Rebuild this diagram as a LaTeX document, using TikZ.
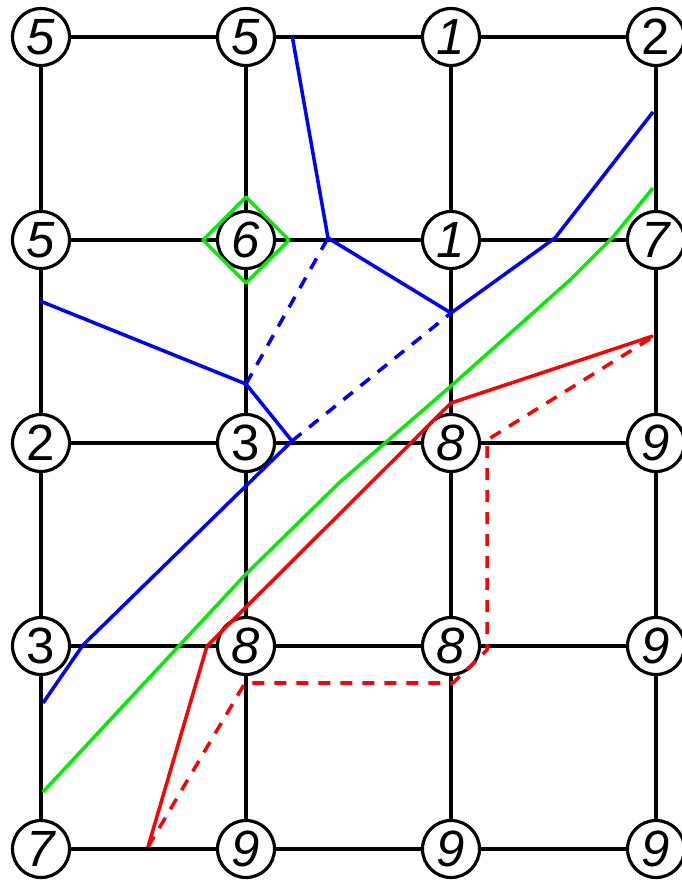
\documentclass[tikz,border=0pt]{standalone}
\usepackage{fontspec}
\setmainfont{Liberation Sans}
\definecolor{cutblue}{HTML}{0000FF}
\definecolor{cutgreen}{HTML}{00EE00}
\definecolor{cutred}{HTML}{FF0000}

\begin{document}
\begin{tikzpicture}[x=0.02cm,y=-0.02cm,line width=2pt,line join=round,
  cell/.style={circle,draw,fill=white,minimum size=1.14cm,inner sep=0pt,
    line width=1.8pt,font=\fontsize{29}{34}\selectfont\itshape},
  cutdash/.style={dash pattern=on 0.24cm off 0.2cm}]
  \useasboundingbox (0,0) rectangle (681,881);
  % value grid
  \foreach \r/\row in {0/{5,5,1,2},1/{5,6,1,7},2/{2,3,8,9},3/{3,8,8,9},4/{7,9,9,9}}
    \foreach \v [count=\c from 0] in \row
      \node[cell] (n\r\c) at (41+205*\c,37+203*\r)
        {\ifnum\v>1 \ifnum\v<4 \upshape\fi\fi\v};
  \foreach \r in {0,...,4}
    \foreach \c/\d in {0/1,1/2,2/3}
      \draw (n\r\c) -- (n\r\d);
  \foreach \c in {0,...,3}
    \foreach \r/\s in {0/1,1/2,2/3,3/4}
      \draw (n\r\c) -- (n\s\c);

  % blue cuts
  \coordinate (bj1) at (328,238);
  \coordinate (bj2) at (451,313);
  \coordinate (bj3) at (246,384);
  \coordinate (bj4) at (292,441);
  \draw[cutblue] (292,35) -- (bj1) -- (bj2) -- (555,238) -- (653,112);
  \draw[cutblue] (40,301) -- (bj3) -- (bj4) -- (83,645) -- (43,703);
  \draw[cutblue,cutdash] (bj3) -- (bj1);
  \draw[cutblue,cutdash] (bj4) -- (bj2);

  % green mark and cut
  \draw[cutgreen] (n11.center) ++(-43,0) -- ++(43,-43) -- ++(43,43) -- ++(-43,43) -- cycle;
  \draw[cutgreen] (43,792) -- (245,575) -- (340,482) -- (451,386) -- (570,280)
    -- (613,237) -- (653,188);

  % red cuts
  \coordinate (rj) at (148,847);
  \draw[cutred] (rj) -- (207,646) -- (451,403) -- (653,336);
  \draw[cutred,cutdash] (rj) -- (245,683) -- (453,683) -- (487,650) -- (487,440)
    -- (653,337);
\end{tikzpicture}
\end{document}
